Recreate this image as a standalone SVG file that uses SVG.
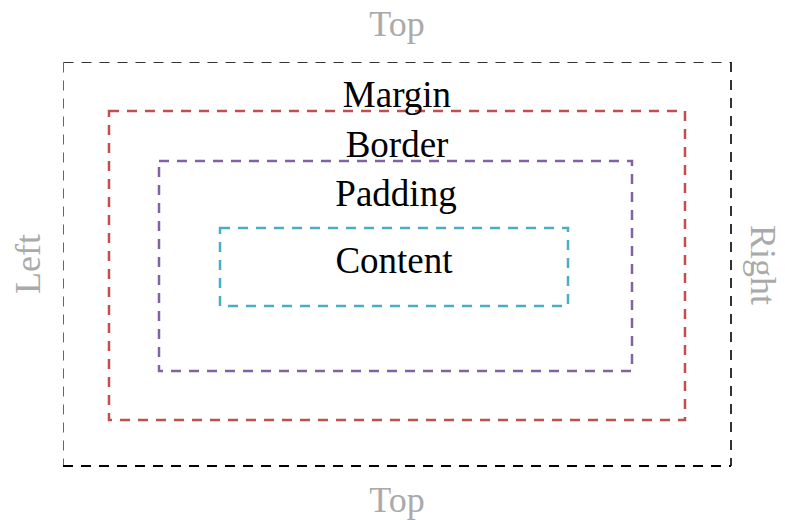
<svg xmlns="http://www.w3.org/2000/svg" width="785" height="520" viewBox="0 0 785 520">
<style>
.lbl{font-family:"Liberation Serif","Times New Roman",serif;font-size:37px;fill:#000;text-anchor:middle}
.side{font-family:"Liberation Serif","Times New Roman",serif;font-size:36px;fill:#aaaaaa;text-anchor:middle}
.box{fill:none;stroke-dasharray:10 8}
</style>
<rect width="785" height="520" fill="#fff"/>
<g id="outer">
<line x1="63.5" y1="62.5" x2="731" y2="62.5" class="box" stroke="#333" stroke-width="1"/>
<line x1="63.5" y1="62.5" x2="63.5" y2="466" class="box" stroke="#666" stroke-width="1"/>
<line x1="731" y1="62" x2="731" y2="466" class="box" stroke="#000" stroke-width="1.6"/>
<line x1="63" y1="466" x2="731" y2="466" class="box" stroke="#000" stroke-width="2.2"/>
</g>
<g id="margin">
<rect x="109" y="111" width="576" height="309" class="box" stroke="#c0504d" stroke-width="2.5"/>
<text x="397" y="107" class="lbl">Margin</text>
</g>
<g id="border">
<rect x="159" y="161" width="473" height="210" class="box" stroke="#8064a2" stroke-width="2.5"/>
<text x="397" y="157" class="lbl">Border</text>
</g>
<g id="padding">
<text x="396" y="206" class="lbl">Padding</text>
</g>
<g id="content">
<rect x="220" y="228" width="348" height="78" class="box" stroke="#4bacc6" stroke-width="2.5"/>
<text x="394" y="273" class="lbl">Content</text>
</g>
<g id="labels">
<text x="397" y="36" class="side">Top</text>
<text x="397" y="512" class="side">Top</text>
<text transform="translate(40,264) rotate(-90)" class="side">Left</text>
<text transform="translate(751,265) rotate(90)" class="side">Right</text>
</g>
<g id="connectors"></g>
</svg>
